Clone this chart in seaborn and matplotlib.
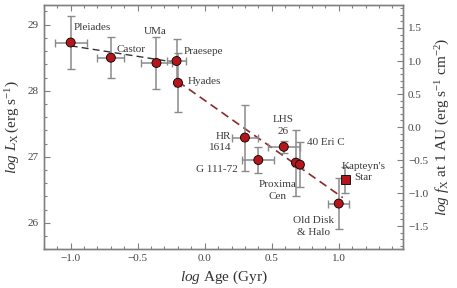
import numpy as np
import pandas as pd
import matplotlib
matplotlib.use('Agg')
import matplotlib.pyplot as plt
from matplotlib.ticker import MultipleLocator
import seaborn as sns

sns.set_theme(style='ticks')
plt.rcParams['font.family'] = ['Liberation Serif', 'DejaVu Serif']
plt.rcParams['mathtext.fontset'] = 'custom'
plt.rcParams['mathtext.rm'] = 'Liberation Serif'
plt.rcParams['mathtext.it'] = 'Liberation Serif:italic'

# data
names = ['Pleiades', 'Castor', 'UMa', 'Praesepe', 'Hyades', 'HR 1614', 'G 111-72',
         'LHS 26', 'Proxima Cen', '40 Eri C', "Kapteyn's Star", 'Old Disk & Halo']
log_age = [-1.0, -0.70, -0.36, -0.21, -0.20, 0.30, 0.40, 0.59, 0.68, 0.71, 1.05, 1.00]
log_lx = [28.73, 28.50, 28.42, 28.45, 28.12, 27.29, 26.95, 27.15, 26.91, 26.88, 26.65, 26.29]
age_err = [0.12, 0.10, 0.115, 0.07, 0.02, 0.10, 0.12, 0.12, 0.02, 0.02, 0.02, 0.08]
lx_err = [0.40, 0.31, 0.40, 0.33, 0.45, 0.50, 0.19, 0.09, 0.50, 0.34, 0.20, 0.38]
kind = ['c', 'c', 'c', 'c', 'c', 'c', 'c', 'c', 'c', 'c', 's', 'c']

# dashed fits
young_x = [-1.0, -0.25]
young_y = [28.68, 28.44]
old_x = [-0.20, 1.03]
old_y = [28.14, 26.38]

# labels: text, x, y, alignment
lab_text = ['Pleiades', 'Castor', 'UMa', 'Praesepe', 'Hyades', 'HR\n1614', 'G 111-72',
            'LHS\n26', '40 Eri C', 'Proxima\nCen', "Kapteyn's\nStar", 'Old Disk\n& Halo']
lab_x = [-0.98, -0.66, -0.37, -0.155, -0.13, 0.20, 0.245, 0.585, 0.76, 0.54, 1.185, 0.815]
lab_y = [28.95, 28.62, 28.89, 28.60, 28.14, 27.22, 26.80, 27.47, 27.21, 26.49, 26.77, 25.94]
lab_ha = ['left', 'left', 'center', 'left', 'left', 'right', 'right', 'center', 'left',
          'center', 'center', 'center']

df = pd.DataFrame({'age': log_age, 'lx': log_lx, 'kind': kind})
offset = 27.45  # log(4 pi AU^2)

fig = plt.figure(figsize=(4.57, 2.88), dpi=100)
ax = fig.add_axes([0.096, 0.135, 0.786, 0.848])

ax.plot(young_x, young_y, ls=(0, (5, 3)), color='#333333', lw=1.0, zorder=1)
ax.plot(old_x, old_y, ls=(0, (5, 3)), color='#8b2a2a', lw=1.2, zorder=1)
ax.errorbar(log_age, log_lx, xerr=age_err, yerr=lx_err, fmt='none', ecolor='#8a8a8a',
            elinewidth=1.1, capsize=3, capthick=1.0, zorder=2)
sns.scatterplot(data=df, x='age', y='lx', style='kind', markers={'c': 'o', 's': 's'},
                color='#b5161b', edgecolor='black', linewidth=0.6, s=42, legend=False,
                ax=ax, zorder=3)

for t, x, y, ha in zip(lab_text, lab_x, lab_y, lab_ha):
    ax.text(x, y, t, ha=ha, va='center', fontsize=8, color='#3a3a3a', linespacing=1.35)

ax.set_xlim(-1.2, 1.48)
ax.set_ylim(25.6, 29.3)
ax.xaxis.set_major_locator(MultipleLocator(0.5))
ax.xaxis.set_minor_locator(MultipleLocator(0.1))
ax.yaxis.set_major_locator(MultipleLocator(1))
ax.yaxis.set_minor_locator(MultipleLocator(0.2))
ax.set_xlabel(r'$\mathit{log}$ Age (Gyr)', fontsize=11, color='#333333', labelpad=4)
ax.set_ylabel(r'$\mathit{log}\ L_{\rm X}\,(\rm erg\ s^{-1})$', fontsize=11, color='#333333',
              labelpad=4)

ax2 = ax.twinx()
ax2.set_ylim(25.6 - offset, 29.3 - offset)
ax2.yaxis.set_major_locator(MultipleLocator(0.5))
ax2.yaxis.set_minor_locator(MultipleLocator(0.1))
ax2.set_ylabel(r'$\mathit{log}\ f_{\rm X}$ at 1 AU (erg s$^{-1}$ cm$^{-2}$)', fontsize=11,
               color='#333333', labelpad=4)

for a in (ax, ax2):
    for s in a.spines.values():
        s.set_color('#808080')
        s.set_linewidth(1.0)
ax.tick_params(which='both', direction='in', top=True, right=False, color='#808080',
               labelsize=8, labelcolor='#444444', width=0.8)
ax.tick_params(which='major', length=4)
ax.tick_params(which='minor', length=2.5)
ax2.tick_params(which='both', direction='in', color='#808080', labelsize=8,
                labelcolor='#444444', width=0.8)
ax2.tick_params(which='major', length=4)
ax2.tick_params(which='minor', length=2.5)

plt.savefig('out.png', dpi=100)
